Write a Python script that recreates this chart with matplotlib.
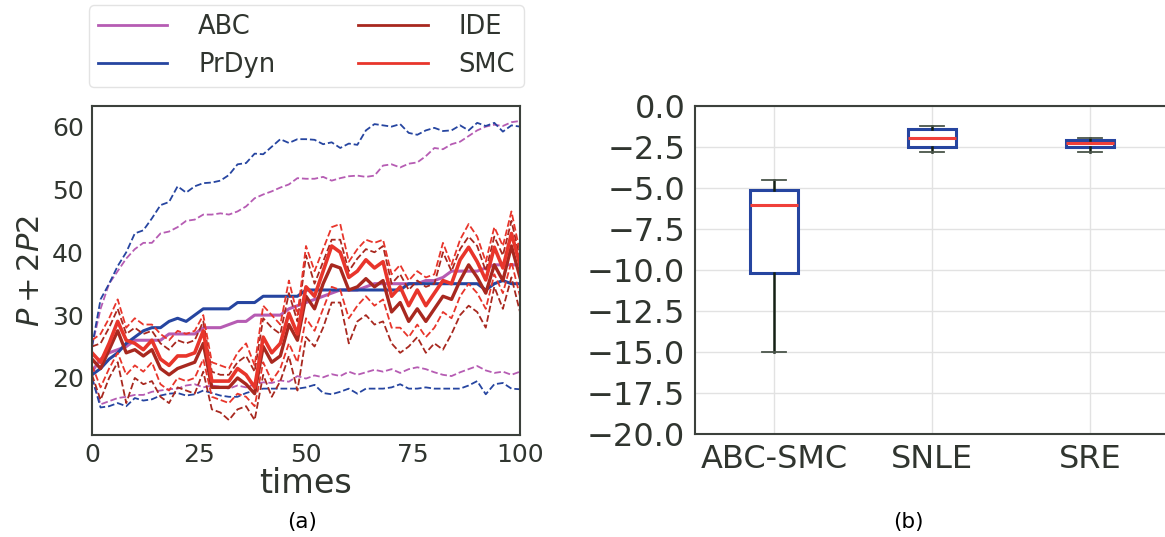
import numpy as np
import matplotlib.pyplot as plt
from matplotlib.lines import Line2D

# time grid (every 2 steps) and the curves
times = np.arange(0, 101, 2)

abc_mean = [21, 23, 24, 24.5, 25, 26, 26, 26, 26, 27, 27, 27, 27, 28, 28, 28, 28.5, 29, 29, 30,
            30, 30, 30, 31, 31.5, 32, 32.5, 33, 33.5, 34, 34, 34, 34.5, 35, 35, 35, 35, 35, 35,
            35.5, 35.5, 36, 37, 37, 37, 37, 37.5, 38, 38, 38, 38]
abc_hi = [25, 31, 35, 37, 39, 40.5, 41.5, 41.5, 43, 43.3, 44, 45, 45.2, 46, 46, 46.2, 46, 46.5,
          47.3, 48.6, 49.2, 49.7, 50.3, 50.8, 51.8, 51.7, 51.7, 52, 51.4, 51.8, 52.1, 52.2, 52,
          52.2, 53.8, 54, 53.5, 54.1, 54.3, 55.3, 56.6, 56.4, 57.2, 57.6, 58.5, 59.4, 60, 60.3,
          60.1, 60.7, 60.9]
abc_lo = [20, 15.8, 16.3, 16.8, 17, 17.3, 17.3, 17.8, 18, 18.2, 18.3, 18.8, 19, 18.5, 18.8, 18.6,
          18.3, 18.8, 18.5, 19, 19.3, 19.2, 19.6, 19.4, 20.3, 19.9, 20.4, 20.1, 20.6, 20.3, 21,
          20.5, 20.9, 21.3, 21, 21.4, 20.8, 21.4, 21.7, 21.4, 20.9, 20.5, 20.3, 20.9, 21.4, 21.9,
          21.2, 20.8, 21, 20.5, 21]

pr_mean = [20.5, 21.5, 23, 24, 25.5, 26.5, 27.5, 28, 28, 29, 29.5, 29, 30, 31, 31, 31, 31, 32,
           32, 32, 33, 33, 33, 33, 33, 34, 34, 34, 34, 34, 34, 34, 34, 34, 34, 34, 34, 35, 35,
           35, 35, 35, 35, 35, 35, 35, 34, 35, 35.5, 35, 35]
pr_hi = [25, 32.5, 35, 37.8, 40, 43, 43.5, 45.4, 47.5, 48, 50.5, 49.5, 50.5, 51, 51.1, 51.4,
         52.3, 54, 54.2, 55.7, 55.6, 56.8, 58, 57.4, 58, 58, 57.9, 57.2, 57.5, 56.6, 57.3, 57.1,
         59.4, 60.4, 60.2, 60, 60.4, 59, 58.7, 59.4, 59.8, 59.3, 59.4, 60.2, 59.4, 60.6, 60.1,
         60.6, 59.2, 60.2, 60]
pr_lo = [20, 15.3, 15.5, 16, 15.5, 16.8, 16.4, 16.6, 17.2, 17.5, 17.6, 17.2, 17.4, 18, 17.6,
         17.2, 17, 17, 17.6, 18, 18.3, 18.3, 18.3, 18.3, 18.3, 18.5, 18.9, 17.6, 17.4, 17.8,
         18.3, 17.5, 18.3, 18.3, 18.3, 18.5, 19, 18.3, 18.3, 18.5, 18.3, 18.3, 18.3, 18.3, 18.8,
         19.5, 17.4, 19, 19.2, 18.3, 18.2]

ide_mean = [23, 21.5, 24.5, 27.5, 24, 24.5, 23.5, 24.5, 21.5, 20.5, 21.5, 22, 22.5, 25.5, 18.5,
            18.5, 18.5, 20, 19, 17.5, 25, 22.5, 23.5, 28.5, 26, 33, 31, 35, 38, 37.5, 34, 34.5,
            35.8, 34.5, 35.5, 30.5, 32, 29, 31, 29, 31, 33, 32.5, 35.5, 38, 36, 33.5, 38, 35.5,
            41, 36]
ide_hi = [25, 25.5, 28, 31, 27, 28, 27, 27.5, 25.5, 24.5, 26, 25.5, 26, 29, 21, 20.5, 20.5, 22.5,
          23.5, 21, 29.5, 28, 27, 33.5, 29, 39.5, 35, 38.5, 42, 42, 37, 39, 40.5, 40, 41, 35,
          36.5, 34, 35.5, 34.5, 35, 40, 37, 40.5, 42.5, 41, 37, 42.5, 39.5, 45, 39]
ide_lo = [20.5, 16.5, 20, 22.5, 16, 20, 19, 19.5, 17, 16, 18.5, 18, 17.5, 21, 15, 14.5, 13.3, 15,
          15.5, 13.3, 20.5, 17, 19.5, 23.5, 18, 26.5, 25, 28, 32, 32, 25.5, 29, 30, 28.5, 29,
          25.5, 24, 25, 26.5, 24, 25.5, 24.5, 27, 30, 31.5, 30.5, 28, 34.5, 31, 36, 30.5]

smc_mean = [24, 22.5, 25.5, 29, 26, 25.5, 24.5, 26, 23, 22, 23.5, 23.5, 24, 27.5, 19.5, 19.5,
            19.5, 21.5, 20.5, 18.5, 26.5, 24, 25.5, 30.3, 27, 34.5, 33, 37, 41, 40, 36, 37, 38.8,
            37.5, 38.5, 33, 34.5, 31.5, 34, 31.5, 33.5, 35.5, 35, 38.8, 40.8, 38.5, 35.6, 40.8,
            37.5, 43, 38]
smc_hi = [26, 27, 29.5, 32.5, 28, 29.5, 28.5, 28.5, 27, 26, 27.5, 27, 27.5, 30, 22.5, 22, 21.5,
          24, 25.5, 22, 31.5, 30, 28.5, 35.5, 30, 41, 37, 40.5, 44, 44.5, 38.5, 40.5, 42, 41.5,
          42, 36.5, 38, 35.5, 37, 36, 36.5, 41.5, 38, 42, 44.5, 42.5, 38.5, 44, 41, 46.5, 40]
smc_lo = [22, 18.5, 21.5, 24, 20.5, 22, 21, 22.5, 19, 18, 20, 19.5, 20, 23, 17, 16.5, 16, 17.5,
          17, 15.5, 22.5, 19.5, 21.5, 25.5, 22.5, 29.5, 27.5, 31, 34.5, 34, 29.5, 31.5, 33, 31.5,
          32.5, 28, 28, 26.5, 28.5, 26.5, 28, 30.5, 29.5, 33, 35, 33.5, 31, 36.5, 33.5, 38.5, 33]

# panel (b): box statistics
methods = ['ABC-SMC', 'SNLE', 'SRE']
whislo = [-15.0, -2.78, -2.8]
q1 = [-10.2, -2.48, -2.48]
med = [-6.05, -1.97, -2.24]
q3 = [-5.15, -1.4, -2.07]
whishi = [-4.5, -1.22, -1.96]

txt = '#30352f'
c_abc = '#b65cb3'
c_pr = '#2645a0'
c_ide = '#a8281f'
c_smc = '#e8352b'

fig = plt.figure(figsize=(11.65, 5.37), dpi=100)
ax1 = fig.add_axes([92 / 1165, 102 / 537, 428 / 1165, 329 / 537])
ax2 = fig.add_axes([695 / 1165, 103 / 537, 474 / 1165, 328 / 537])

# --- panel (a)
ax1.plot(times, abc_hi, '--', color=c_abc, lw=1.3)
ax1.plot(times, abc_lo, '--', color=c_abc, lw=1.3)
ax1.plot(times, pr_hi, '--', color=c_pr, lw=1.3)
ax1.plot(times, pr_lo, '--', color=c_pr, lw=1.3)
ax1.plot(times, abc_mean, '-', color=c_abc, lw=2.2)
ax1.plot(times, pr_mean, '-', color=c_pr, lw=2.2)
ax1.plot(times, ide_hi, '--', color=c_ide, lw=1.3)
ax1.plot(times, ide_lo, '--', color=c_ide, lw=1.3)
ax1.plot(times, smc_hi, '--', color=c_smc, lw=1.3)
ax1.plot(times, smc_lo, '--', color=c_smc, lw=1.3)
ax1.plot(times, ide_mean, '-', color=c_ide, lw=2.4)
ax1.plot(times, smc_mean, '-', color=c_smc, lw=2.6)

ax1.set_xlim(0, 100)
ax1.set_xticks([0, 25, 50, 75, 100])
ax1.set_yticks([20, 30, 40, 50, 60])
ax1.tick_params(length=0, pad=6, labelsize=18, colors=txt)
ax1.set_xlabel('times', fontsize=24, color=txt, labelpad=0)
ax1.set_ylabel('$P + 2P2$', fontsize=22, color=txt, labelpad=5)
for sp in ax1.spines.values():
    sp.set_color('#3c413c')
    sp.set_linewidth(1.5)

handles = [Line2D([], [], color=c_abc, lw=2), Line2D([], [], color=c_pr, lw=2),
           Line2D([], [], color=c_ide, lw=2), Line2D([], [], color=c_smc, lw=2)]
leg = ax1.legend(handles, ['ABC', 'PrDyn', 'IDE', 'SMC'], loc='lower left',
                 bbox_to_anchor=(-0.007, 1.058, 1.016, 0.25), mode='expand', ncol=2,
                 fontsize=18.5, handlelength=2.7, handletextpad=1.2, borderaxespad=0,
                 borderpad=0.35, labelspacing=0.45,
                 frameon=True, fancybox=True, edgecolor='#dddddd', labelcolor=txt)

# --- panel (b)
stats = []
for i in range(len(methods)):
    stats.append({'label': methods[i], 'whislo': whislo[i], 'q1': q1[i], 'med': med[i],
                  'q3': q3[i], 'whishi': whishi[i], 'fliers': []})
ax2.bxp(stats, positions=[1, 2, 3], widths=0.3, showfliers=False, patch_artist=True,
        boxprops=dict(facecolor='white', edgecolor=c_pr, linewidth=2.2),
        medianprops=dict(color='#f0403a', linewidth=2.2),
        whiskerprops=dict(color='#142014', linewidth=1.8),
        capprops=dict(color='#4a554a', linewidth=1.3))
ax2.set_xlim(0.5, 3.5)
ax2.set_ylim(-20, 0)
ax2.set_yticks(np.arange(-20, 0.1, 2.5))
ax2.set_xticks([1, 2, 3])
ax2.set_xticklabels(methods)
ax2.grid(True, color='#e2e2e2', lw=1)
ax2.set_axisbelow(True)
ax2.tick_params(length=0, pad=7, labelsize=23, colors=txt)
for sp in ax2.spines.values():
    sp.set_color('#3c413c')
    sp.set_linewidth(1.5)

fig.text(302 / 1165, 1 - 522 / 537, '(a)', ha='center', va='center', fontsize=15.5)
fig.text(908 / 1165, 1 - 522 / 537, '(b)', ha='center', va='center', fontsize=15.5)

fig.savefig('out.png', dpi=100)
